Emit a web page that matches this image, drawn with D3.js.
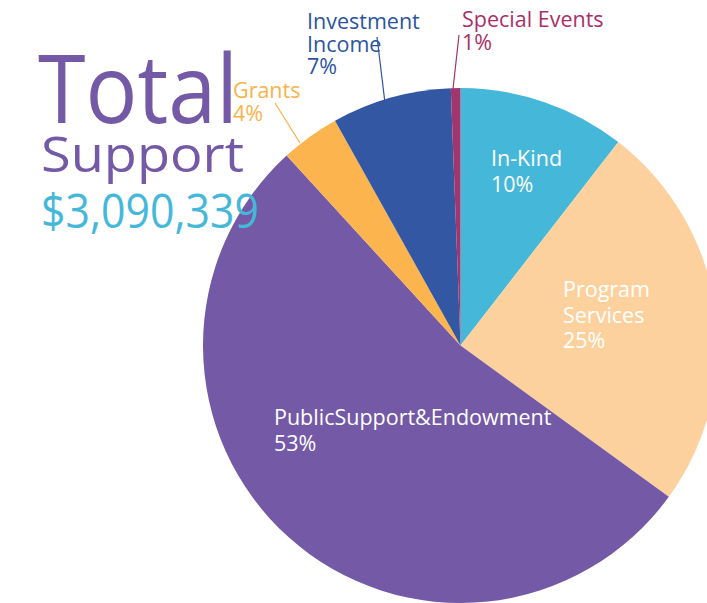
<!DOCTYPE html>
<html>
<head>
<meta charset="utf-8">
<script src="https://cdn.jsdelivr.net/npm/d3@7"></script>
<style>
  body { margin: 0; background: #fff; }
  svg { display: block; font-family: "Open Sans", sans-serif; }
</style>
</head>
<body>
<svg id="chart" width="707" height="603"></svg>
<script>
'use strict';

const categories = ['In-Kind', 'Program Services', 'Public Support & Endowment', 'Grants', 'Investment Income', 'Special Events'];
const shares = [10.5, 24.5, 53.2, 3.7, 7.5, 0.6];
const pctLabels = ['10%', '25%', '53%', '4%', '7%', '1%'];
const colors = ['#45b8da', '#fcd19d', '#7459a6', '#fbb44e', '#3457a3', '#a2356e'];

const totalLabel = '$3,090,339';

const svg = d3.select('#chart');
const cx = 460.5, cy = 345.5, r = 257.5;

const pie = d3.pie().sort(null).value(d => d.v);
const arcs = pie(shares.map((v, i) => ({ v, i })));
const arc = d3.arc().innerRadius(0).outerRadius(r);

const g = svg.append('g').attr('transform', `translate(${cx},${cy})`);

g.selectAll('path')
  .data(arcs)
  .enter()
  .append('path')
  .attr('d', arc)
  .attr('fill', d => colors[d.data.i]);

// inside labels (white)
const inside = [
  { i: 0, x: 491, y: 166, lines: ['In-Kind'] },
  { i: 1, x: 563, y: 297, lines: ['Program', 'Services'] },
  { i: 2, x: 274, y: 425, lines: ['PublicSupport&Endowment'] },
];

inside.forEach(l => {
  const t = svg.append('text')
    .attr('x', l.x).attr('y', l.y)
    .attr('fill', '#fff')
    .attr('font-size', 21.5);
  l.lines.concat([pctLabels[l.i]]).forEach((s, k) => {
    t.append('tspan').attr('x', l.x).attr('dy', k ? 25.5 : 0).text(s);
  });
});

// title
const title = svg.append('g');
title.append('text')
  .attr('x', 38).attr('y', 123)
  .attr('fill', '#7459a6')
  .attr('font-size', 96)
  .attr('textLength', 200).attr('lengthAdjust', 'spacingAndGlyphs')
  .text('Total');
title.append('text')
  .attr('x', 41).attr('y', 172)
  .attr('fill', '#7459a6')
  .attr('font-size', 50)
  .attr('textLength', 203).attr('lengthAdjust', 'spacingAndGlyphs')
  .text('Support');
title.append('text')
  .attr('x', 41).attr('y', 228)
  .attr('fill', '#45b8da')
  .attr('font-size', 48)
  .attr('textLength', 218).attr('lengthAdjust', 'spacingAndGlyphs')
  .text(totalLabel);

// outside labels with leader lines
const outside = [
  { i: 3, x: 233, y: 98, lines: ['Grants'], color: '#f9b24a', line: [[275, 103], [300, 143]] },
  { i: 4, x: 307, y: 29, lines: ['Investment', 'Income'], color: '#2c54a0', line: [[377, 37], [385, 103]] },
  { i: 5, x: 462, y: 27, lines: ['Special Events'], color: '#a8306a', line: [[459, 35], [453, 89]] },
];

outside.forEach(l => {
  svg.append('line')
    .attr('x1', l.line[0][0]).attr('y1', l.line[0][1])
    .attr('x2', l.line[1][0]).attr('y2', l.line[1][1])
    .attr('stroke', l.color)
    .attr('stroke-width', 1.2);

  const t = svg.append('text')
    .attr('x', l.x).attr('y', l.y)
    .attr('fill', l.color)
    .attr('font-size', 21.5);
  l.lines.concat([pctLabels[l.i]]).forEach((s, k) => {
    t.append('tspan').attr('x', l.x).attr('dy', k ? 22.5 : 0).text(s);
  });
});
</script>
</body>
</html>
